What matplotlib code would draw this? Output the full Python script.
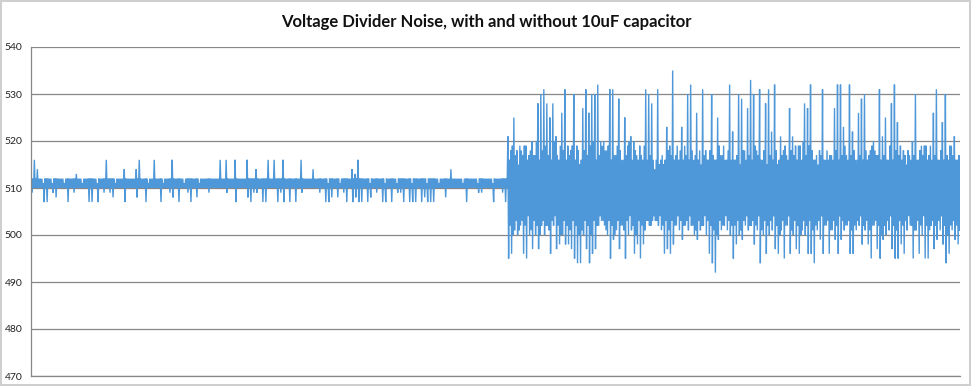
import matplotlib
matplotlib.use("Agg")
import matplotlib.pyplot as plt
import numpy as np

# Data: per ~3px column, the highest and lowest reading.
# Quiet half (with the 10uF capacitor)
quiet_hi = [
    512, 516, 514, 512, 511, 512, 512, 511, 512, 512, 512, 511, 512, 512, 512, 513, 512, 511, 512, 512,
    512, 512, 511, 512, 512, 516, 512, 512, 511, 512, 512, 514, 512, 512, 512, 514, 516, 512, 512, 511,
    512, 516, 512, 512, 511, 512, 512, 516, 512, 512, 512, 511, 512, 512, 512, 512, 511, 512, 512, 512,
    512, 512, 512, 516, 512, 516, 512, 512, 516, 512, 512, 512, 516, 512, 512, 514, 512, 512, 512, 516,
    512, 516, 512, 512, 516, 512, 512, 512, 512, 512, 516, 512, 512, 512, 514, 512, 512, 512, 512, 511,
    512, 512, 512, 511, 512, 512, 512, 514, 513, 516, 512, 512, 512, 511, 512, 512, 512, 512, 511, 512,
    512, 512, 511, 512, 512, 512, 512, 511, 512, 512, 512, 512, 511, 512, 512, 512, 511, 512, 512, 512,
    514, 512, 512, 512, 511, 512, 512, 512, 512, 511, 512, 512, 512, 512, 511, 512, 512, 512, 512,
]
quiet_lo = [
    509, 510, 510, 510, 507, 507, 510, 509, 508, 510, 510, 510, 507, 510, 509, 510, 510, 510, 510, 507,
    507, 510, 507, 510, 509, 510, 509, 508, 510, 510, 510, 507, 510, 510, 510, 508, 510, 510, 507, 510,
    510, 510, 510, 507, 510, 510, 509, 508, 510, 507, 510, 510, 509, 507, 510, 508, 510, 510, 510, 509,
    510, 510, 510, 510, 510, 509, 510, 510, 507, 510, 510, 510, 508, 507, 509, 509, 510, 507, 507, 510,
    510, 510, 507, 509, 507, 510, 507, 510, 507, 510, 509, 510, 510, 510, 510, 510, 509, 510, 507, 507,
    508, 510, 508, 510, 509, 507, 510, 507, 508, 507, 507, 510, 507, 508, 510, 509, 510, 507, 507, 510,
    507, 510, 509, 509, 507, 510, 507, 507, 507, 510, 507, 508, 507, 507, 507, 510, 510, 510, 508, 510,
    510, 510, 510, 510, 510, 507, 510, 510, 510, 509, 509, 510, 510, 510, 507, 510, 510, 509, 507,
]
quiet_core = (512, 510)   # the steady 510/512 toggling between the spikes

# Noisy half (without the capacitor): outer peaks/dips
noisy_hi = [
    521, 518, 525, 518, 519, 517, 519, 517, 520, 517, 528, 530, 531, 528, 525, 528, 521, 516, 526, 531, 519, 518, 530, 519,
    515, 527, 531, 526, 530, 530, 532, 520, 520, 518, 531, 531, 517, 529, 516, 525, 519, 521, 520, 517, 519, 516, 531, 530, 528,
    514, 531, 516, 515, 523, 519, 535, 517, 516, 523, 519, 530, 532, 516, 526, 518, 531, 518, 516, 530, 516, 525, 517, 519, 516, 532,
    522, 516, 530, 529, 518, 527, 533, 530, 518, 531, 516, 528, 531, 522, 532, 515, 521, 518, 517, 527, 521, 519, 519, 516, 528,
    527, 532, 516, 517, 518, 531, 516, 516, 517, 527, 532, 532, 523, 517, 532, 522, 516, 526, 529, 530, 516, 518, 520, 517, 531,
    521, 525, 516, 528, 532, 524, 519, 518, 515, 517, 520, 530, 516, 519, 519, 516, 519, 526, 531, 516, 524, 530, 516, 519, 521, 516,
]
noisy_lo = [
    495, 496, 501, 500, 502, 496, 495, 500, 497, 500, 497, 502, 500, 502, 496, 502, 497, 498, 500, 498, 498, 497, 495, 494,
    494, 500, 497, 494, 496, 497, 502, 503, 502, 500, 495, 499, 501, 497, 502, 495, 500, 501, 496, 498, 495, 498, 503, 502, 503,
    503, 502, 501, 496, 497, 496, 498, 502, 501, 499, 502, 501, 502, 500, 499, 501, 502, 500, 496, 494, 492, 499, 501, 502, 501, 500,
    495, 498, 500, 499, 502, 501, 502, 498, 501, 494, 500, 496, 500, 501, 497, 496, 501, 495, 502, 496, 500, 497, 496, 501, 500,
    496, 496, 494, 501, 499, 496, 502, 496, 501, 499, 496, 499, 501, 502, 496, 496, 501, 502, 498, 501, 498, 495, 502, 497, 495,
    499, 500, 501, 497, 495, 495, 498, 496, 501, 502, 495, 501, 496, 500, 495, 495, 502, 497, 499, 501, 498, 494, 496, 501, 499, 498,
]
# Noisy half: the ragged edge of the dense core
noisy_hi2 = [
    516, 519, 517, 515, 518, 519, 516, 518, 517, 520, 516, 518, 519, 517, 516, 520, 517, 519, 518, 516, 517, 519, 516, 518,
    516, 518, 517, 519, 520, 516, 517, 519, 518, 519, 516, 517, 519, 518, 516, 517, 520, 516, 518, 516, 517, 519, 516, 517, 516,
    516, 515, 517, 516, 518, 517, 516, 519, 518, 516, 517, 516, 518, 517, 516, 515, 517, 516, 518, 517, 516, 519, 517, 516, 518, 516,
    516, 517, 515, 518, 516, 517, 516, 519, 517, 516, 518, 515, 517, 516, 518, 516, 517, 519, 516, 518, 517, 516, 519, 520, 517,
    519, 518, 516, 515, 517, 516, 518, 517, 516, 518, 516, 517, 519, 516, 517, 518, 516, 517, 516, 518, 517, 519, 518, 517, 516,
    517, 516, 519, 516, 518, 517, 516, 517, 518, 516, 517, 516, 518, 517, 519, 517, 516, 517, 516, 518, 516, 517, 519, 517, 516, 517,
]
noisy_lo2 = [
    502, 500, 503, 501, 503, 502, 504, 501, 503, 502, 500, 503, 502, 501, 503, 504, 502, 500, 503, 502, 501, 503, 502, 500,
    501, 503, 502, 500, 503, 502, 504, 503, 501, 503, 502, 500, 503, 502, 501, 503, 504, 502, 500, 503, 502, 501, 503, 502, 504,
    503, 504, 502, 503, 501, 503, 502, 504, 503, 502, 503, 504, 502, 501, 503, 502, 504, 503, 502, 501, 500, 503, 502, 504, 503, 502,
    502, 503, 501, 503, 504, 502, 503, 502, 504, 501, 503, 502, 503, 504, 502, 500, 503, 502, 504, 501, 503, 502, 500, 503, 502,
    503, 501, 502, 503, 504, 502, 503, 501, 503, 502, 504, 503, 502, 503, 501, 502, 503, 504, 502, 503, 501, 502, 503, 502, 500,
    502, 503, 504, 502, 501, 503, 502, 503, 504, 502, 501, 503, 502, 504, 502, 501, 503, 502, 503, 504, 502, 500, 502, 503, 502, 501,
]

y_ticks = [470, 480, 490, 500, 510, 520, 530, 540]
title = "Voltage Divider Noise, with and without 10uF capacitor"

# each column: outer peak, outer dip, core high, core low
hi = np.array(quiet_hi + noisy_hi)
lo = np.array(quiet_lo + noisy_lo)
hi2 = np.array([quiet_core[0]] * len(quiet_hi) + noisy_hi2)
lo2 = np.array([quiet_core[1]] * len(quiet_lo) + noisy_lo2)
trace = np.column_stack([hi, lo, hi2, lo2]).ravel()
samples = np.arange(len(trace))

plt.rcParams['font.family'] = ['Lato', 'DejaVu Sans']

fig = plt.figure(figsize=(9.71, 3.86), dpi=100)
fig.patch.set_edgecolor('#cfcfcf')
fig.patch.set_linewidth(1.5)
ax = fig.add_axes([31 / 971, 1 - 376 / 386, 929 / 971, 329 / 386])

ax.plot(samples, trace, color='#4e97d8', linewidth=1.0, solid_joinstyle='miter')

ax.set_ylim(470, 540)
ax.set_xlim(-0.5, len(trace) - 0.5)
ax.set_yticks(y_ticks)
ax.set_xticks([])
ax.yaxis.grid(True, color='#878787', linewidth=0.9)
ax.set_axisbelow(True)
ax.tick_params(axis='y', length=0, pad=6, labelsize=7.5, labelcolor='#222222')
for side in ['top', 'right']:
    ax.spines[side].set_visible(False)
for side in ['left', 'bottom']:
    ax.spines[side].set_color('#878787')
    ax.spines[side].set_linewidth(0.9)

fig.text(486 / 971, 1 - 22 / 386, title, ha='center', va='center',
         fontsize=12, fontweight='bold', color='#111111')

fig.savefig('out.png', dpi=100)
